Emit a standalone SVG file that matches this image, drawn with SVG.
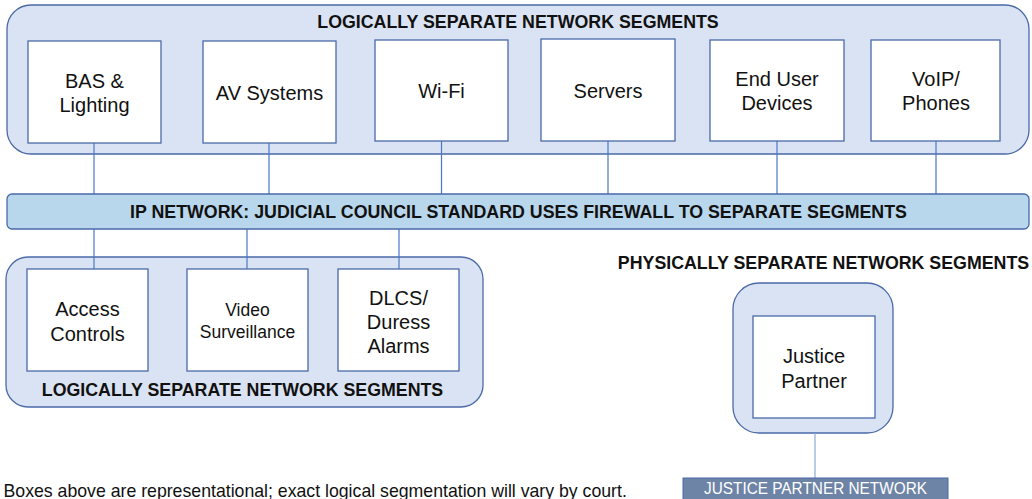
<svg xmlns="http://www.w3.org/2000/svg" width="1032" height="499" viewBox="0 0 1032 499">
<style>
.cont{fill:#dae3f3;stroke:#4a6aa8;stroke-width:1.3}
.box{fill:#ffffff;stroke:#4a6aa8;stroke-width:1.3}
.lbl{font-family:"Liberation Sans",Arial,sans-serif;font-size:20px;fill:#111;text-anchor:middle}
.sm{font-size:17.5px}
.hdr{font-family:"Liberation Sans",Arial,sans-serif;font-size:17.8px;font-weight:bold;fill:#111;text-anchor:middle}
.conn line{stroke:#4a78c8;stroke-width:1.2}
</style>
<rect width="1032" height="499" fill="#ffffff"/>
<g id="top-segments">
<rect class="cont" x="7" y="5" width="1022" height="149" rx="24"/>
<text class="hdr" x="518" y="28">LOGICALLY SEPARATE NETWORK SEGMENTS</text>
</g>
<g id="bottom-segments">
<rect class="cont" x="6" y="257" width="477" height="150" rx="22"/>
<text class="hdr" x="242.5" y="396">LOGICALLY SEPARATE NETWORK SEGMENTS</text>
</g>
<g id="physical-segment">
<text class="hdr" x="823.5" y="269">PHYSICALLY SEPARATE NETWORK SEGMENTS</text>
<rect class="cont" x="733" y="283" width="160" height="150" rx="26"/>
</g>
<g class="conn" id="connectors">
<line x1="94" y1="143" x2="94" y2="194"/>
<line x1="269" y1="143" x2="269" y2="194"/>
<line x1="441.5" y1="141" x2="441.5" y2="194"/>
<line x1="608" y1="141" x2="608" y2="194"/>
<line x1="777" y1="141" x2="777" y2="194"/>
<line x1="936" y1="141" x2="936" y2="194"/>
<line x1="94" y1="229" x2="94" y2="269"/>
<line x1="247" y1="229" x2="247" y2="269"/>
<line x1="399" y1="229" x2="399" y2="269"/>
<line x1="815" y1="433" x2="815" y2="478" style="stroke:#8eaadb"/>
</g>
<g id="ip-network">
<rect x="7" y="194" width="1022" height="35" rx="5" fill="#b8d7ec" stroke="#4a6aa8" stroke-width="1.3"/>
<text class="hdr" x="518.5" y="218">IP NETWORK: JUDICIAL COUNCIL STANDARD USES FIREWALL TO SEPARATE SEGMENTS</text>
</g>
<g id="bas"><rect class="box" x="28" y="41" width="133" height="102"/><text class="lbl" x="94.5" y="88">BAS &amp;</text><text class="lbl" x="94.5" y="112">Lighting</text></g>
<g id="av"><rect class="box" x="203" y="41" width="133" height="102"/><text class="lbl" x="269.5" y="100">AV Systems</text></g>
<g id="wifi"><rect class="box" x="375" y="40" width="133" height="101"/><text class="lbl" x="441.5" y="97.5">Wi-Fi</text></g>
<g id="servers"><rect class="box" x="541" y="39" width="134" height="102"/><text class="lbl" x="608" y="98">Servers</text></g>
<g id="enduser"><rect class="box" x="710" y="40" width="134" height="101"/><text class="lbl" x="777" y="86">End User</text><text class="lbl" x="777" y="110">Devices</text></g>
<g id="voip"><rect class="box" x="871" y="40" width="129" height="101"/><text class="lbl" x="936" y="86">VoIP/</text><text class="lbl" x="936" y="110">Phones</text></g>
<g id="access"><rect class="box" x="27" y="269" width="121" height="102"/><text class="lbl" x="87.5" y="316">Access</text><text class="lbl" x="87.5" y="340.5">Controls</text></g>
<g id="video"><rect class="box" x="187" y="269" width="121" height="102"/><text class="lbl sm" x="247.5" y="316">Video</text><text class="lbl sm" x="247.5" y="338">Surveillance</text></g>
<g id="dlcs"><rect class="box" x="338" y="269" width="121" height="102"/><text class="lbl" x="398.5" y="304.5">DLCS/</text><text class="lbl" x="398.5" y="328.5">Duress</text><text class="lbl" x="398.5" y="352.5">Alarms</text></g>
<g id="justice"><rect class="box" x="753" y="316" width="122" height="102"/><text class="lbl" x="814" y="363">Justice</text><text class="lbl" x="814" y="387.5">Partner</text></g>
<g id="jp-network">
<rect x="683" y="478" width="265" height="24" fill="#6e84a6" stroke="#4a6aa8" stroke-width="1"/>
<text x="815.5" y="494" font-family="&quot;Liberation Sans&quot;,Arial,sans-serif" font-size="16.5" fill="#ffffff" text-anchor="middle" textLength="223" lengthAdjust="spacingAndGlyphs">JUSTICE PARTNER NETWORK</text>
</g>
<text id="footnote" x="3.5" y="497" font-family="&quot;Liberation Sans&quot;,Arial,sans-serif" font-size="17.7" fill="#111">Boxes above are representational; exact logical segmentation will vary by court.</text>
</svg>
